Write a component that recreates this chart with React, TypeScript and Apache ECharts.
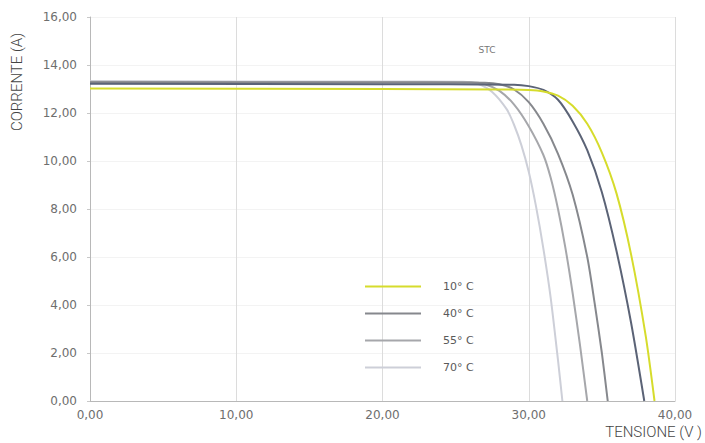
import React, { useEffect, useRef } from "react";
import * as echarts from "echarts";

// I-V curves: [tensione (V), corrente (A)]
const curve10: number[][] = [
  [0, 13.02], [20, 13.0], [28, 12.98], [30, 12.96], [31, 12.9], [32, 12.72],
  [33, 12.3], [34, 11.55], [35, 10.35], [36, 8.65], [37, 6.1], [38, 2.7], [38.6, 0],
];
const curve25: number[][] = [
  [0, 13.22], [20, 13.2], [29, 13.18], [30, 13.12], [31, 12.96], [32, 12.55],
  [33, 11.65], [34, 10.45], [35, 8.7], [36, 6.25], [37, 3.25], [37.9, 0],
];
const curve40: number[][] = [
  [0, 13.28], [20, 13.27], [27, 13.26], [28, 13.2], [29, 12.98], [30, 12.45],
  [31, 11.55], [32, 10.3], [33, 8.6], [34, 6.0], [34.5, 4.1], [35, 2.0], [35.4, 0],
];
const curve55: number[][] = [
  [0, 13.3], [20, 13.29], [26, 13.28], [27, 13.2], [28, 12.92], [29, 12.35],
  [30, 11.45], [31, 10.25], [31.5, 9.3], [32, 8.0], [32.5, 6.4], [33, 4.5],
  [33.5, 2.35], [34, 0],
];
const curve70: number[][] = [
  [0, 13.32], [20, 13.31], [25.5, 13.3], [26.5, 13.22], [27.5, 12.88], [28.5, 12.15],
  [29, 11.5], [29.5, 10.65], [30, 9.55], [30.5, 8.1], [31, 6.35], [31.5, 4.3],
  [32, 1.7], [32.3, 0],
];

const seriesNames = ["70° C", "55° C", "40° C", "25° C", "10° C"];
const legendNames = ["10° C", "40° C", "55° C", "70° C"];
const seriesColors = ["#cdcfd8", "#a6a7ab", "#86888d", "#5b6376", "#d6dc2c"];

const fmt = (v: number) => v.toFixed(2).replace(".", ",");

export default function App() {
  const ref = useRef<HTMLDivElement>(null);
  useEffect(() => {
    if (!ref.current) return;
    const chart = echarts.init(ref.current, undefined, { renderer: "svg" });
    const data = [curve70, curve55, curve40, curve25, curve10];
    chart.setOption({
      animation: false,
      backgroundColor: "#ffffff",
      grid: { left: 90, right: 30, top: 17, bottom: 42 },
      legend: {
        data: legendNames,
        orient: "vertical",
        left: 360,
        top: 276,
        icon: "rect",
        itemWidth: 56,
        itemHeight: 2,
        itemGap: 16,
        textStyle: {
          color: "#5a5a5a",
          fontSize: 11,
          fontFamily: "DejaVu Sans",
          padding: [0, 0, 0, 17],
        },
      },
      xAxis: {
        type: "value",
        min: 0,
        max: 40,
        interval: 10,
        axisLine: { show: true, lineStyle: { color: "#b8b8b8", width: 1 } },
        axisTick: { show: false },
        splitLine: { show: true, lineStyle: { color: "#dcdcdc", width: 1 } },
        axisLabel: {
          formatter: (v: number) => fmt(v),
          color: "#6e6e6e",
          fontSize: 12,
          fontFamily: "DejaVu Sans",
          margin: 8,
        },
      },
      yAxis: {
        type: "value",
        min: 0,
        max: 16,
        interval: 2,
        axisLine: { show: true, lineStyle: { color: "#b8b8b8", width: 1 } },
        axisTick: { show: true, length: 3, lineStyle: { color: "#c8c8c8" } },
        splitLine: { show: true, lineStyle: { color: "#f3f3f3", width: 1 } },
        axisLabel: {
          formatter: (v: number) => fmt(v),
          color: "#6e6e6e",
          fontSize: 12,
          fontFamily: "DejaVu Sans",
          margin: 13,
        },
      },
      series: data.map((d, i) => ({
        name: seriesNames[i],
        type: "line",
        data: d,
        smooth: 0.25,
        showSymbol: false,
        symbol: "none",
        lineStyle: { color: seriesColors[i], width: 2 },
        itemStyle: { color: seriesColors[i] },
        z: 2 + i,
      })),
      graphic: [
        {
          type: "text",
          x: 17,
          y: 82,
          rotation: Math.PI / 2,
          style: {
            text: "CORRENTE (A)",
            fill: "#444",
            fontSize: 15,
            fontFamily: "Roboto",
            fontWeight: 300,
            textAlign: "center",
            textVerticalAlign: "middle",
          },
        },
        {
          type: "text",
          x: 702,
          y: 432,
          style: {
            text: "TENSIONE (V )",
            fill: "#444",
            fontSize: 15,
            fontFamily: "Roboto",
            fontWeight: 300,
            textAlign: "right",
            textVerticalAlign: "middle",
          },
        },
        {
          type: "text",
          x: 487,
          y: 50,
          style: {
            text: "STC",
            fill: "#777",
            fontSize: 9,
            fontFamily: "DejaVu Sans",
            textAlign: "center",
            textVerticalAlign: "middle",
          },
        },
      ],
    });
    return () => chart.dispose();
  }, []);
  return (
    <div
      ref={ref}
      style={{ position: "fixed", left: 0, top: 0, width: 705, height: 443 }}
    />
  );
}
